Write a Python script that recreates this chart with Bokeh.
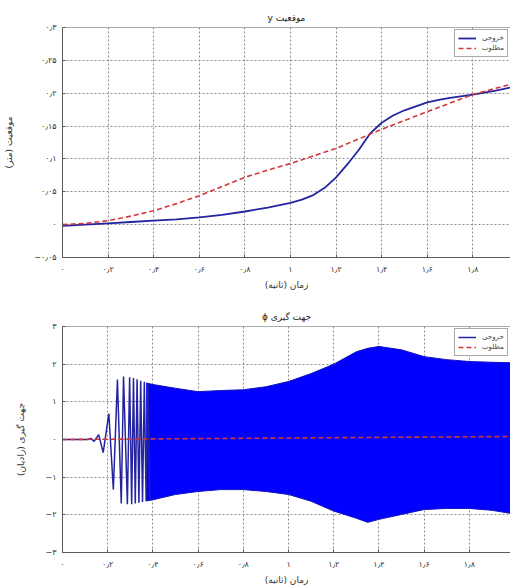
from bokeh.plotting import figure
from bokeh.layouts import column
from bokeh.models import FixedTicker, Range1d, Span
from bokeh.embed import file_html
from bokeh.resources import INLINE

# ---------------- data ----------------
# top: position y
t_out_y = [0, 0.1, 0.2, 0.3, 0.4, 0.5, 0.6, 0.7, 0.8, 0.9, 1.0, 1.05, 1.1, 1.15,
           1.2, 1.25, 1.3, 1.35, 1.4, 1.45, 1.5, 1.55, 1.6, 1.65, 1.7, 1.8, 1.9, 1.97]
out_y = [-0.002, 0.0, 0.002, 0.004, 0.006, 0.008, 0.011, 0.015, 0.02, 0.026, 0.033,
         0.038, 0.045, 0.056, 0.072, 0.092, 0.114, 0.139, 0.155, 0.166, 0.174, 0.18,
         0.186, 0.19, 0.193, 0.198, 0.204, 0.209]
t_des_y = [0, 0.1, 0.2, 0.3, 0.4, 0.5, 0.6, 0.7, 0.8, 0.9, 1.0, 1.2, 1.4, 1.6, 1.8, 1.97]
des_y = [0, 0.002, 0.006, 0.013, 0.021, 0.032, 0.044, 0.058, 0.072, 0.083, 0.093,
         0.116, 0.145, 0.172, 0.198, 0.214]

# bottom: orientation phi (individual early swings, then the dense band's envelope)
t_phi_start = [0, 0.11, 0.125, 0.14, 0.16, 0.18, 0.205, 0.225, 0.243, 0.26, 0.27,
               0.287, 0.297, 0.306, 0.314, 0.322, 0.330, 0.338, 0.346, 0.354, 0.362,
               0.370, 0.378, 0.386]
phi_start = [0, 0, 0.03, -0.05, 0.13, -0.35, 0.69, -1.33, 1.59, -1.7, 1.67, -1.72,
             1.65, -1.72, 1.63, -1.7, 1.6, -1.68, 1.56, -1.66, 1.53, -1.64, 1.5, -1.62]
t_env = [0.37, 0.4, 0.5, 0.6, 0.7, 0.8, 0.9, 1.0, 1.1, 1.2, 1.3, 1.35, 1.4, 1.5, 1.6,
         1.7, 1.8, 1.9, 1.98]
phi_upper = [1.5, 1.46, 1.36, 1.27, 1.3, 1.32, 1.4, 1.54, 1.75, 2.0, 2.33, 2.42, 2.47,
             2.38, 2.2, 2.12, 2.07, 2.05, 2.04]
phi_lower = [-1.63, -1.6, -1.46, -1.38, -1.33, -1.33, -1.38, -1.46, -1.64, -1.9, -2.09,
             -2.2, -2.12, -1.99, -1.86, -1.83, -1.83, -1.88, -1.96]
t_des_phi = [0, 0.5, 1.0, 1.5, 1.98]
des_phi = [0, 0.02, 0.04, 0.06, 0.08]

x_ticks = [0, 0.2, 0.4, 0.6, 0.8, 1.0, 1.2, 1.4, 1.6, 1.8]
x_tick_labels = ["۰", "۰٫۲", "۰٫۴", "۰٫۶", "۰٫۸", "۱", "۱٫۲", "۱٫۴", "۱٫۶", "۱٫۸"]
y1_ticks = [-0.05, 0, 0.05, 0.1, 0.15, 0.2, 0.25, 0.3]
y1_tick_labels = ["−۰٫۰۵", "۰", "۰٫۰۵", "۰٫۱", "۰٫۱۵", "۰٫۲", "۰٫۲۵", "۰٫۳"]
y2_ticks = [-3, -2, -1, 0, 1, 2, 3]
y2_tick_labels = ["−۳", "−۲", "−۱", "۰", "۱", "۲", "۳"]

LRM = "\u200e"
legend_out = "خروجی"
legend_des = "مطلوب"
# strings ordered so that a left-to-right line shows them as the reference does
title1 = "y " + LRM + "موقعیت"
title2 = "ϕ " + LRM + "جهت گیری"
xlabel = "(ثانیه)" + LRM + " " + LRM + "زمان"
ylabel1 = "(متر)" + LRM + " " + LRM + "موقعیت"
ylabel2 = "(رادیان)" + LRM + " " + LRM + "جهت گیری"

FONT = "DejaVu Sans"
AX = "#5a5a5a"
BLUE_LINE = "#2424a0"
RED = "#d2373a"


def style(p, xt, xl, yt, yl, xlab, ylab, ytop):
    p.xaxis.ticker = FixedTicker(ticks=xt)
    p.xaxis.major_label_overrides = {k: v for k, v in zip(xt, xl)}
    p.yaxis.ticker = FixedTicker(ticks=yt)
    p.yaxis.major_label_overrides = {k: v for k, v in zip(yt, yl)}
    for ax in (p.xaxis[0], p.yaxis[0]):
        ax.axis_line_color = AX
        ax.major_tick_line_color = AX
        ax.major_tick_in = 3
        ax.major_tick_out = 0
        ax.minor_tick_line_color = None
        ax.major_label_text_font = FONT
        ax.major_label_text_font_size = "8px"
        ax.major_label_text_color = "#333333"
        ax.axis_label_text_font = FONT
        ax.axis_label_text_font_size = "9px"
        ax.axis_label_text_font_style = "normal"
        ax.axis_label_text_color = "#333333"
    p.xaxis.axis_label = xlab
    p.yaxis.axis_label = ylab
    p.xaxis.major_label_standoff = 7
    p.yaxis.major_label_standoff = 6
    p.xaxis.axis_label_standoff = 3
    p.yaxis.axis_label_standoff = 17
    p.add_layout(Span(location=ytop, dimension="width", line_color=AX, line_width=1))
    for g in (p.xgrid[0], p.ygrid[0]):
        g.grid_line_color = "#8c8c8c"
        g.grid_line_dash = "2 2"
        g.grid_line_width = 1
    p.outline_line_color = None
    p.title.text_font = FONT
    p.title.text_font_size = "9px"
    p.title.text_font_style = "normal"
    p.title.align = "center"
    p.title.text_color = "#222222"
    p.background_fill_color = "white"
    p.border_fill_color = "white"


# ---------------- top figure ----------------
p1 = figure(width=510, height=300, output_backend="svg", toolbar_location=None,
            x_range=Range1d(0, 1.965), y_range=Range1d(-0.05, 0.3),
            min_border_left=58, min_border_right=0, min_border_top=27,
            min_border_bottom=43, title=title1)
style(p1, x_ticks, x_tick_labels, y1_ticks, y1_tick_labels, xlabel, ylabel1, 0.3)
p1.line(t_out_y, out_y, line_color=BLUE_LINE, line_width=1.8, legend_label=legend_out)
p1.line(t_des_y, des_y, line_color=RED, line_width=1.6, line_dash="5 3",
        legend_label=legend_des)

# ---------------- bottom figure ----------------
p2 = figure(width=510, height=288, output_backend="svg", toolbar_location=None,
            x_range=Range1d(0, 1.982), y_range=Range1d(-3, 3),
            min_border_left=62, min_border_right=0, min_border_top=26,
            min_border_bottom=36, title=title2)
style(p2, x_ticks, x_tick_labels, y2_ticks, y2_tick_labels, xlabel, ylabel2, 3)
p2.varea(x=t_env, y1=phi_lower, y2=phi_upper, fill_color="#0000ff", fill_alpha=1.0)
p2.line(t_env, phi_upper, line_color="#1010c0", line_width=1)
p2.line(t_env, phi_lower, line_color="#1010c0", line_width=1)
p2.line(t_phi_start, phi_start, line_color=BLUE_LINE, line_width=1.5,
        legend_label=legend_out)
p2.line(t_des_phi, des_phi, line_color=RED, line_width=1.6, line_dash="5 3",
        legend_label=legend_des)

for p in (p1, p2):
    lg = p.legend[0]
    lg.location = "top_right"
    lg.margin = 2
    lg.padding = 3
    lg.spacing = 0
    lg.label_text_font = FONT
    lg.label_text_font_size = "7px"
    lg.label_height = 10
    lg.glyph_height = 10
    lg.glyph_width = 18
    lg.label_standoff = 6
    lg.border_line_color = "#555555"
    lg.background_fill_alpha = 1.0

layout = column(p1, p2, spacing=0)
open("out.html", "w").write(file_html(layout, INLINE))
